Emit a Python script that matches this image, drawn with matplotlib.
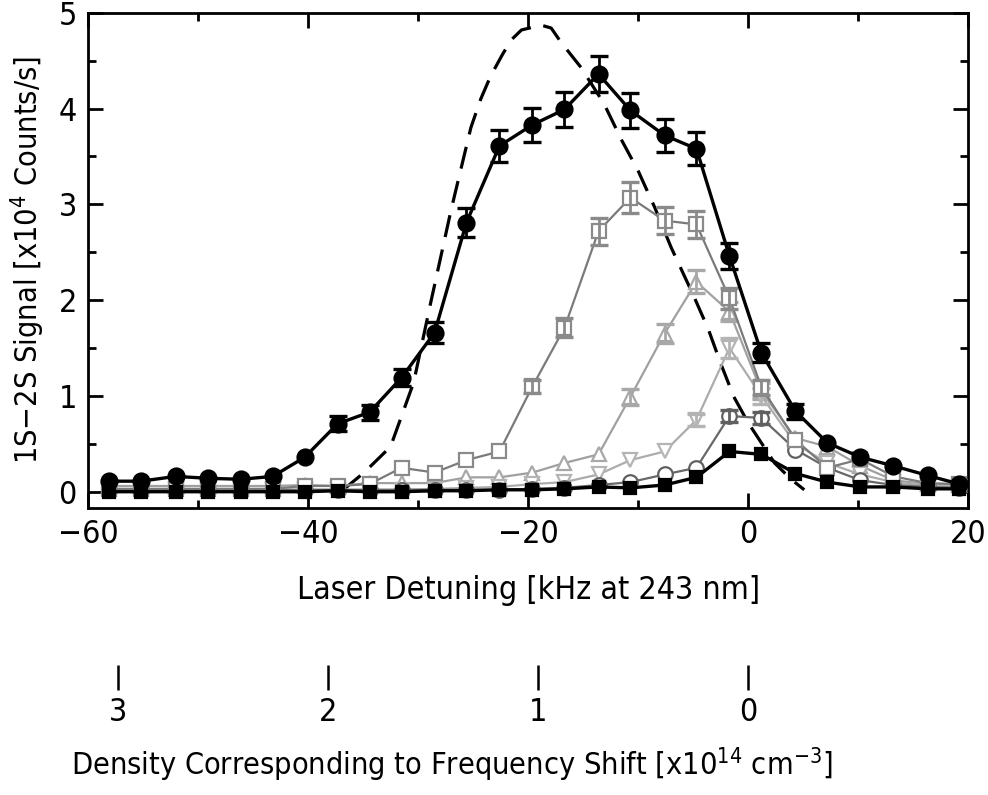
import numpy as np
import matplotlib
matplotlib.use('Agg')
import matplotlib.pyplot as plt
from matplotlib.ticker import MultipleLocator

plt.rcParams['font.family'] = ['DejaVu Sans']
plt.rcParams['font.stretch'] = 'condensed'
plt.rcParams['mathtext.default'] = 'regular'

# laser detuning of the data points [kHz at 243 nm]
detuning = [-58.1, -55.2, -52.0, -49.1, -46.1, -43.2, -40.3, -37.3, -34.4,
            -31.5, -28.5, -25.6, -22.6, -19.6, -16.7, -13.6, -10.7, -7.6,
            -4.7, -1.7, 1.2, 4.3, 7.2, 10.2, 13.2, 16.3, 19.2]

# 1S-2S signal [x10^4 counts/s]
filled_circles = [0.11, 0.11, 0.16, 0.14, 0.13, 0.16, 0.36, 0.71, 0.83,
                  1.19, 1.66, 2.81, 3.61, 3.83, 3.99, 4.36, 3.98, 3.72,
                  3.58, 2.46, 1.45, 0.84, 0.51, 0.36, 0.27, 0.17, 0.08]
filled_circles_err = [0, 0, 0, 0, 0, 0, 0, 0.08, 0.08,
                      0.09, 0.11, 0.15, 0.17, 0.18, 0.18, 0.19, 0.18, 0.17,
                      0.17, 0.14, 0.10, 0.08, 0, 0, 0, 0, 0]

open_squares = [0.03, 0.03, 0.03, 0.03, 0.03, 0.03, 0.06, 0.06, 0.08,
                0.25, 0.20, 0.33, 0.42, 1.10, 1.71, 2.72, 3.07, 2.83,
                2.79, 2.02, 1.09, 0.54, 0.25, 0.34, 0.16, 0.09, 0.08]
open_squares_err = [0, 0, 0, 0, 0, 0, 0, 0, 0,
                    0, 0, 0, 0, 0.07, 0.10, 0.14, 0.16, 0.14,
                    0.14, 0.11, 0.08, 0, 0, 0, 0, 0, 0]

up_triangles = [0.06, 0.06, 0.06, 0.06, 0.06, 0.06, 0.07, 0.06, 0.09,
                0.09, 0.09, 0.15, 0.15, 0.20, 0.30, 0.39, 0.99, 1.65,
                2.19, 1.88, 1.05, 0.56, 0.47, 0.27, 0.12, 0.08, 0.07]
up_triangles_err = [0, 0, 0, 0, 0, 0, 0, 0, 0,
                    0, 0, 0, 0, 0, 0, 0, 0.08, 0.10,
                    0.12, 0.10, 0.08, 0, 0, 0, 0, 0, 0]

down_triangles = [0.02, 0.02, 0.02, 0.02, 0.02, 0.02, 0.02, 0.02, 0.02,
                  0.02, 0.03, 0.04, 0.05, 0.08, 0.10, 0.18, 0.33, 0.42,
                  0.75, 1.50, 1.00, 0.50, 0.30, 0.18, 0.10, 0.06, 0.05]
down_triangles_err = [0, 0, 0, 0, 0, 0, 0, 0, 0,
                      0, 0, 0, 0, 0, 0, 0, 0, 0,
                      0.06, 0.10, 0.08, 0, 0, 0, 0, 0, 0]

open_circles = [0.02, 0.02, 0.02, 0.02, 0.02, 0.02, 0.02, 0.02, 0.02,
                0.02, 0.02, 0.02, 0.02, 0.03, 0.04, 0.07, 0.10, 0.18,
                0.25, 0.79, 0.77, 0.44, 0.25, 0.12, 0.07, 0.05, 0.04]
open_circles_err = [0, 0, 0, 0, 0, 0, 0, 0, 0,
                    0, 0, 0, 0, 0, 0, 0, 0, 0,
                    0, 0.06, 0.06, 0, 0, 0, 0, 0, 0]

filled_squares = [0.0, 0.0, 0.0, 0.0, 0.0, 0.0, 0.0, 0.01, 0.0,
                  0.0, 0.01, 0.01, 0.02, 0.02, 0.03, 0.05, 0.04, 0.07,
                  0.15, 0.42, 0.39, 0.19, 0.10, 0.05, 0.05, 0.03, 0.03]

# dashed model curve
model_x = [-36.8, -34.9, -32.5, -30.4, -28.8, -27.0, -25.2, -24.3, -23.4,
           -22.3, -21.5, -20.6, -18.8, -17.9, -17.0, -15.2, -13.1, -11.5,
           -10.0, -8.5, -7.0, -4.9, -3.6, -2.5, -1.3, 0.0, 1.2, 2.4, 3.9, 5.1]
model_y = [0.02, 0.20, 0.47, 1.14, 2.00, 2.94, 3.80, 4.10, 4.34,
           4.57, 4.72, 4.82, 4.87, 4.84, 4.69, 4.43, 4.05, 3.67,
           3.35, 2.97, 2.55, 2.03, 1.69, 1.34, 0.99, 0.72, 0.51, 0.30, 0.13, 0.02]

# density scale [x10^14 cm^-3] and matching shift [kHz]
density_labels = ['3', '2', '1', '0']
density_values = [3, 2, 1, 0]
khz_per_density = -19.1

x = np.array(detuning)

fig = plt.figure(figsize=(9.88, 7.95), dpi=100)
ax = fig.add_axes([0.089, 0.361, 0.891, 0.623])


def draw_series(y, err, marker, ms, mfc, mec, color, lw, z):
    y = np.array(y)
    ax.plot(x, y, '-', color=color, lw=lw, marker=marker, ms=ms,
            mfc=mfc, mec=mec, mew=1.6, zorder=z)
    if err is not None:
        err = np.array(err)
        m = err > 0
        ax.errorbar(x[m], y[m], yerr=err[m], fmt='none', ecolor=mec,
                    elinewidth=2, capsize=6.5, capthick=2.4, zorder=z)


ax.plot(model_x, model_y, color='black', lw=2.3, dashes=(7, 4), zorder=2)

draw_series(up_triangles, up_triangles_err, '^', 10.5, 'white', '#a8a8a8', '#a0a0a0', 1.6, 3)
draw_series(down_triangles, down_triangles_err, 'v', 10.5, 'white', '#b4b4b4', '#acacac', 1.6, 3.1)
draw_series(open_circles, open_circles_err, 'o', 10.5, 'white', '#606060', '#686868', 1.6, 3.2)
draw_series(open_squares, open_squares_err, 's', 10.5, 'white', '#8a8a8a', '#7a7a7a', 1.6, 3.3)
draw_series(filled_squares, None, 's', 9, 'black', 'black', 'black', 2.4, 4)
draw_series(filled_circles, filled_circles_err, 'o', 11.5, 'black', 'black', 'black', 2.4, 5)

ax.set_xlim(-60, 20)
ax.set_ylim(-0.17, 5)
ax.xaxis.set_major_locator(MultipleLocator(20))
ax.xaxis.set_minor_locator(MultipleLocator(10))
ax.yaxis.set_major_locator(MultipleLocator(1))
ax.yaxis.set_minor_locator(MultipleLocator(0.5))
ax.tick_params(which='both', direction='in', top=True, right=True,
               labelsize=23, width=2)
ax.tick_params(which='major', length=11, pad=8)
ax.tick_params(which='minor', length=6)
for s in ax.spines.values():
    s.set_linewidth(2)

ax.set_xlabel('Laser Detuning [kHz at 243 nm]', fontsize=23, labelpad=18)
ax.set_ylabel('1S\u22122S Signal [x10$^4$ Counts/s]', fontsize=22, labelpad=8)

# density axis below
ax2 = fig.add_axes([0.089, 0.1635, 0.891, 0.0001])
ax2.set_xlim(-60, 20)
ax2.set_yticks([])
for s in ax2.spines.values():
    s.set_visible(False)
ax2.set_xticks([d * khz_per_density for d in density_values])
ax2.set_xticklabels(density_labels)
ax2.tick_params(axis='x', direction='out', length=18, width=1.8,
                labelsize=23, pad=5)
ax2.patch.set_visible(False)

fig.text(0.457, 0.038, 'Density Corresponding to Frequency Shift [x10$^{14}$ cm$^{-3}$]',
         ha='center', va='center', fontsize=22)

fig.savefig('out.png', dpi=100)
